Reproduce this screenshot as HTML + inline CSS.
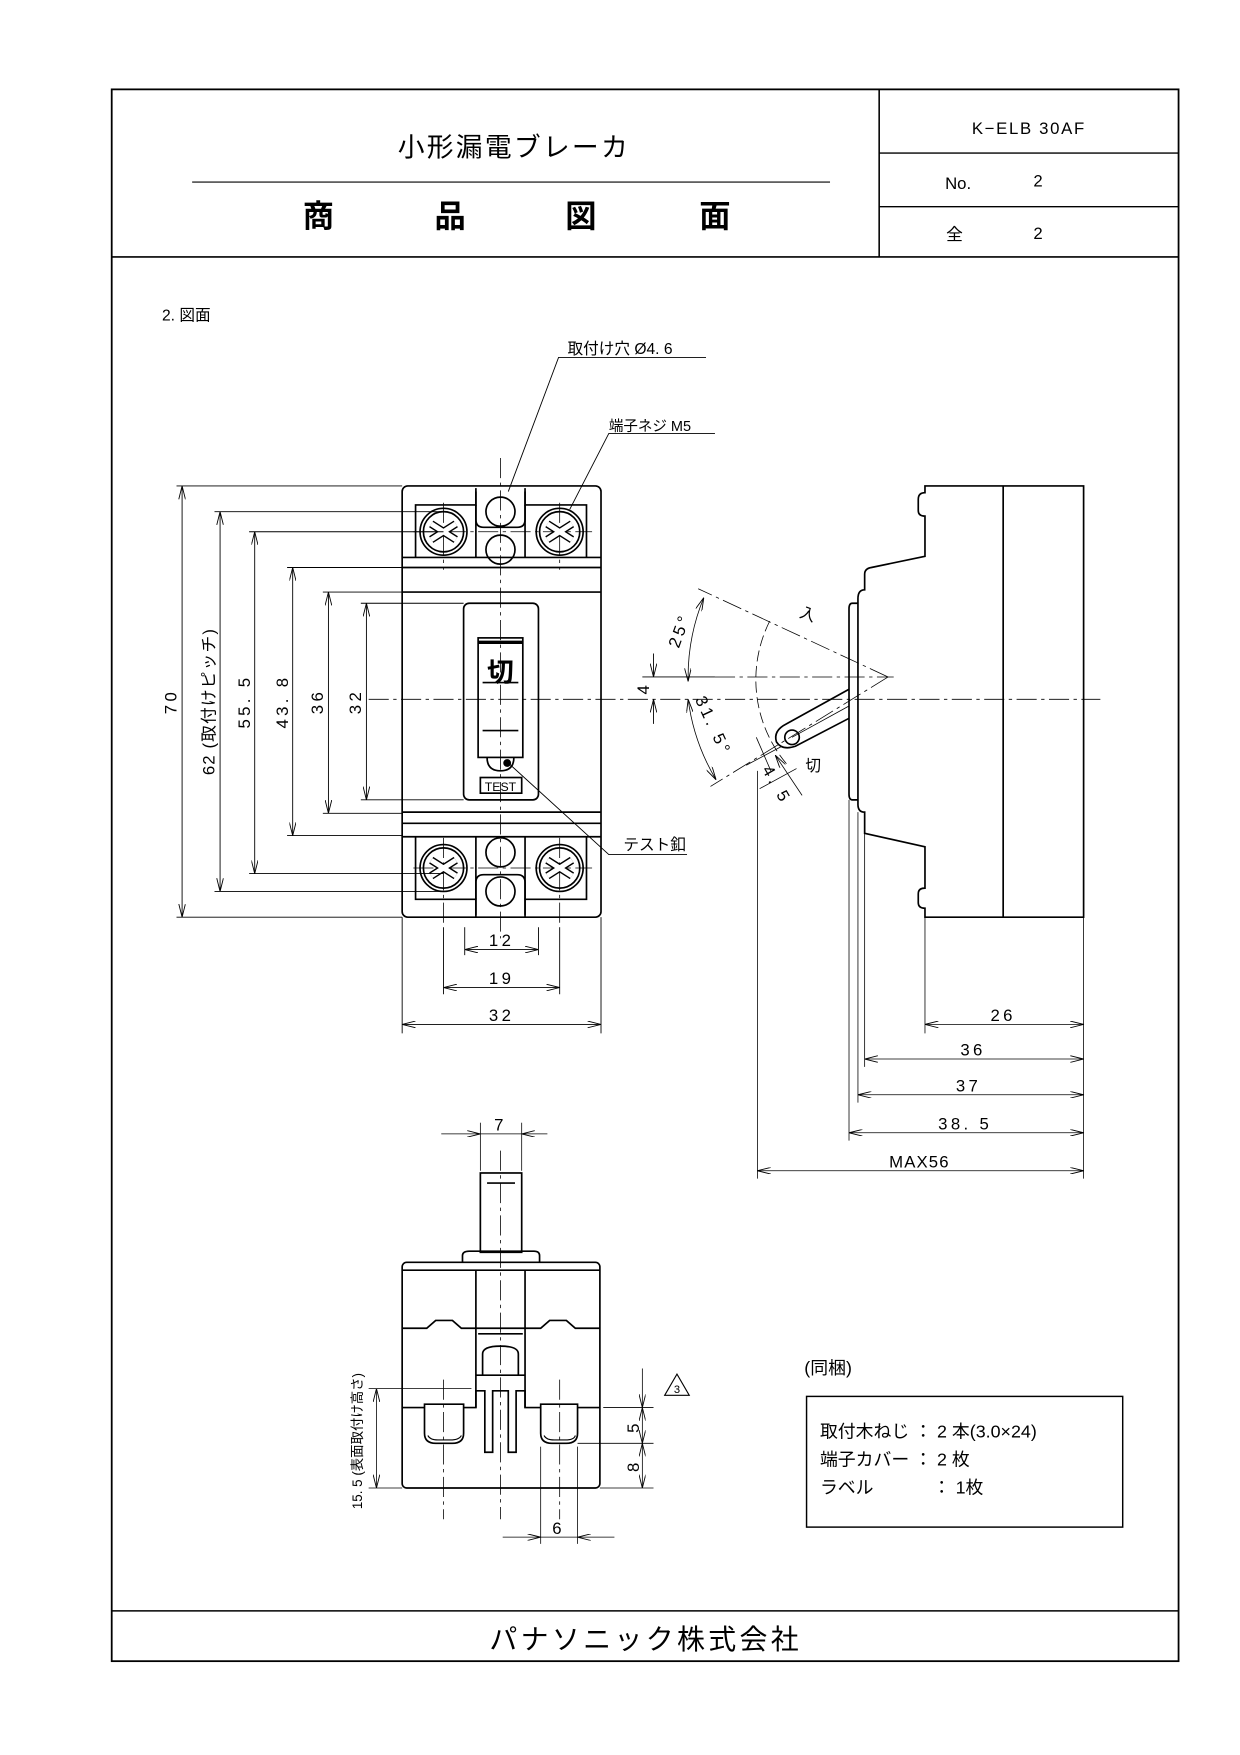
<!DOCTYPE html>
<html><head><meta charset="utf-8"><style>html,body{margin:0;padding:0;background:#fff}svg{display:block}</style></head><body>
<svg width="1240" height="1755" viewBox="0 0 1110 1571" preserveAspectRatio="none" xmlns="http://www.w3.org/2000/svg" font-family="Liberation Sans, Noto Sans CJK JP, sans-serif">
<defs>
<marker id="a" viewBox="0 0 12 6" refX="12" refY="3" markerWidth="12" markerHeight="6" orient="auto-start-reverse" markerUnits="userSpaceOnUse"><path d="M0,0 L12,3 L0,6" fill="none" stroke="#000" stroke-width="0.8"/></marker>
</defs>
<g fill="none" stroke="#000">
<rect x="100" y="80" width="955" height="1407" stroke-width="1.6"/>
<line x1="100" y1="230" x2="1055" y2="230" stroke-width="1.4"/>
<line x1="787" y1="80" x2="787" y2="230" stroke-width="1.4"/>
<line x1="787" y1="137" x2="1055" y2="137" stroke-width="1.2"/>
<line x1="787" y1="185" x2="1055" y2="185" stroke-width="1.2"/>
<line x1="172" y1="163" x2="743" y2="163" stroke-width="1"/>
<line x1="100" y1="1442" x2="1055" y2="1442" stroke-width="1.4"/>

<g stroke-width="0.7" stroke-dasharray="18,4,3,4">
<line x1="330" y1="626" x2="985" y2="626"/>
<line x1="448" y1="410" x2="448" y2="840"/>
<line x1="397" y1="450" x2="397" y2="510"/><line x1="501" y1="450" x2="501" y2="510"/>
<line x1="397" y1="750" x2="397" y2="830"/><line x1="501" y1="750" x2="501" y2="830"/>
<line x1="370" y1="476" x2="530" y2="476"/><line x1="370" y1="777" x2="530" y2="777"/>
<line x1="448" y1="1030" x2="448" y2="1360"/>
<line x1="397" y1="1235" x2="397" y2="1360"/><line x1="501" y1="1235" x2="501" y2="1360"/>
<line x1="640" y1="606" x2="800" y2="606"/>
</g>

<g stroke-width="1.5">
<rect x="360" y="435" width="178" height="386" rx="5"/>
<line x1="360" y1="499" x2="538" y2="499"/>
<line x1="360" y1="508" x2="538" y2="508"/>
<line x1="360" y1="530" x2="538" y2="530"/>
<line x1="360" y1="727" x2="538" y2="727"/>
<line x1="360" y1="737" x2="538" y2="737"/>
<line x1="360" y1="749" x2="538" y2="749"/>
<path d="M372,499 V452 H426 V437 M470,437 V452 H525 V499"/>
<path d="M372,749 V805 H426 V821 M470,821 V805 H525 V749"/>
<path d="M426,440 V465 Q426,472 433,472 H463 Q470,472 470,465 V440"/>
<path d="M426,499 V452 M470,499 V452"/>
<path d="M426,749 V805 M470,749 V805"/>
<path d="M426,819 V790 Q426,783 433,783 H463 Q470,783 470,790 V819"/>
<circle cx="397" cy="476" r="21"/><circle cx="397" cy="476" r="18"/>
<circle cx="501" cy="476" r="21"/><circle cx="501" cy="476" r="18"/>
<circle cx="397" cy="777" r="21"/><circle cx="397" cy="777" r="18"/>
<circle cx="501" cy="777" r="21"/><circle cx="501" cy="777" r="18"/>
<circle cx="448" cy="458" r="13"/><circle cx="448" cy="492" r="13"/>
<circle cx="448" cy="763" r="13"/><circle cx="448" cy="798" r="13"/>
<rect x="415" y="540" width="67" height="176" rx="5"/>
<rect x="428" y="571" width="40" height="107"/>
<line x1="428" y1="575" x2="468" y2="575" stroke-width="3"/>
<line x1="432" y1="611" x2="464" y2="611"/>
<line x1="432" y1="654" x2="464" y2="654"/>
<path d="M436,678 Q436,690 448,690 Q460,690 460,678"/>
<rect x="430" y="696" width="37" height="14"/>
</g>
<g>
<path d="M386,469 l22,14 M386,483 l22,-14 M490,469 l22,14 M490,483 l22,-14 M386,770 l22,14 M386,784 l22,-14 M490,770 l22,14 M490,784 l22,-14" stroke-width="7" stroke="#000"/>
<path d="M386,469 l22,14 M386,483 l22,-14 M490,469 l22,14 M490,483 l22,-14 M386,770 l22,14 M386,784 l22,-14 M490,770 l22,14 M490,784 l22,-14" stroke-width="4.5" stroke="#fff"/>
</g>
<circle cx="454" cy="683" r="3" fill="#000"/>

<g stroke-width="0.8">
<line x1="158" y1="435" x2="360" y2="435"/><line x1="158" y1="821" x2="360" y2="821"/>
<line x1="192" y1="458" x2="397" y2="458"/><line x1="192" y1="798" x2="397" y2="798"/>
<line x1="223" y1="476" x2="397" y2="476"/><line x1="223" y1="782" x2="397" y2="782"/>
<line x1="257" y1="508" x2="360" y2="508"/><line x1="257" y1="748" x2="360" y2="748"/>
<line x1="289" y1="530" x2="360" y2="530"/><line x1="289" y1="728" x2="360" y2="728"/>
<line x1="323" y1="540" x2="415" y2="540"/><line x1="323" y1="716" x2="415" y2="716"/>
<line x1="163" y1="435" x2="163" y2="821" marker-start="url(#a)" marker-end="url(#a)"/>
<line x1="197" y1="458" x2="197" y2="798" marker-start="url(#a)" marker-end="url(#a)"/>
<line x1="228" y1="476" x2="228" y2="782" marker-start="url(#a)" marker-end="url(#a)"/>
<line x1="262" y1="508" x2="262" y2="748" marker-start="url(#a)" marker-end="url(#a)"/>
<line x1="294" y1="530" x2="294" y2="728" marker-start="url(#a)" marker-end="url(#a)"/>
<line x1="328" y1="540" x2="328" y2="716" marker-start="url(#a)" marker-end="url(#a)"/>
<line x1="416" y1="830" x2="416" y2="855"/><line x1="482" y1="830" x2="482" y2="855"/>
<line x1="397" y1="830" x2="397" y2="890"/><line x1="501" y1="830" x2="501" y2="890"/>
<line x1="360" y1="821" x2="360" y2="925"/><line x1="538" y1="821" x2="538" y2="925"/>
<line x1="416" y1="850" x2="482" y2="850" marker-start="url(#a)" marker-end="url(#a)"/>
<line x1="397" y1="884" x2="501" y2="884" marker-start="url(#a)" marker-end="url(#a)"/>
<line x1="360" y1="917" x2="538" y2="917" marker-start="url(#a)" marker-end="url(#a)"/>
<line x1="575" y1="606" x2="640" y2="606"/>
<line x1="585" y1="585" x2="585" y2="606" marker-end="url(#a)"/>
<line x1="585" y1="648" x2="585" y2="626" marker-end="url(#a)"/>
<path d="M455,440 L500,320 H632"/>
<path d="M510,456 L545,388 H640"/>
<path d="M455,683 L545,765 H615"/>
</g>

<g stroke-width="1.5">
<path d="M828,435 H970 V821 H828 V813 Q822,813 822,808 V800 Q822,795 828,795 V758 L774,746 V727 Q768,727 768,720 V536 Q768,528 774,528 V514 Q774,509 780,508 L828,498 V462 Q822,462 822,457 V447 Q822,441 828,441 Z"/>
<line x1="898" y1="435" x2="898" y2="821"/>
<path d="M768,540 H763 Q760,540 760,545 V711 Q760,716 763,716 H768"/>
<path d="M760,617 L704,648 Q692,654 695,664 Q700,672 712,668 L760,643"/>
<circle cx="709" cy="660" r="6.5"/>
</g>
<g stroke-width="0.7">
<path d="M709,660 L760,632" />
<line x1="795" y1="606" x2="625" y2="527" stroke-dasharray="18,4,3,4"/>
<line x1="795" y1="606" x2="636" y2="704" stroke-dasharray="18,4,3,4"/>
<path d="M689,556 A117,117 0 0 0 706,686" stroke-dasharray="10,4"/>
<path d="M630,535 A187,187 0 0 0 616,610" marker-start="url(#a)" marker-end="url(#a)"/>
<path d="M616,626 A187,187 0 0 0 641,698" marker-start="url(#a)" marker-end="url(#a)"/>
<line x1="677" y1="660" x2="690" y2="690"/><line x1="694" y1="676" x2="718" y2="712" marker-start="url(#a)"/>
<line x1="668" y1="685" x2="700" y2="668"/><line x1="680" y1="706" x2="713" y2="688"/>
<line x1="828" y1="821" x2="828" y2="925"/>
<line x1="970" y1="821" x2="970" y2="1055"/>
<line x1="774" y1="746" x2="774" y2="955"/>
<line x1="768" y1="727" x2="768" y2="987"/>
<line x1="760" y1="716" x2="760" y2="1021"/>
<line x1="678" y1="690" x2="678" y2="1055"/>
<line x1="828" y1="917" x2="970" y2="917" marker-start="url(#a)" marker-end="url(#a)"/>
<line x1="774" y1="948" x2="970" y2="948" marker-start="url(#a)" marker-end="url(#a)"/>
<line x1="768" y1="980" x2="970" y2="980" marker-start="url(#a)" marker-end="url(#a)"/>
<line x1="760" y1="1014" x2="970" y2="1014" marker-start="url(#a)" marker-end="url(#a)"/>
<line x1="678" y1="1048" x2="970" y2="1048" marker-start="url(#a)" marker-end="url(#a)"/>
</g>

<g stroke-width="1.5">
<rect x="430" y="1050" width="37" height="71"/>
<line x1="436" y1="1059" x2="461" y2="1059"/>
<path d="M414,1130 V1124 Q414,1120 420,1120 H478 Q483,1120 483,1124 V1130"/>
<rect x="360" y="1130" width="177" height="202" rx="4"/>
<line x1="360" y1="1137" x2="537" y2="1137"/>
<path d="M360,1189 H382 L390,1182 H405 L413,1189 H426 M470,1189 H484 L492,1182 H507 L515,1189 H537"/>
<path d="M426,1137 V1260 M470,1137 V1260"/>
<line x1="426" y1="1189" x2="470" y2="1189"/>
<line x1="428" y1="1194" x2="468" y2="1194"/>
<path d="M432,1231 V1212 Q432,1205 448,1205 Q464,1205 464,1212 V1231"/>
<line x1="426" y1="1231" x2="470" y2="1231"/>
<path d="M360,1260 H380 M415,1260 H426 V1245 H434 V1300 H441 V1245 H455 V1300 H462 V1245 H470 V1260 H484 M517,1260 H537"/>
<path d="M380,1257 V1283 Q380,1292 390,1292 H405 Q415,1292 415,1283 V1257 Z"/>
<path d="M484,1257 V1283 Q484,1292 494,1292 H507 Q517,1292 517,1283 V1257 Z"/>
<path d="M383,1285 Q385,1289 392,1289 H403 Q411,1289 413,1285 M487,1285 Q489,1289 496,1289 H506 Q514,1289 515,1285" stroke-width="1"/>
</g>
<g stroke-width="0.7">
<line x1="430" y1="1005" x2="430" y2="1048"/><line x1="467" y1="1005" x2="467" y2="1048"/>
<line x1="395" y1="1015" x2="430" y2="1015" marker-end="url(#a)"/><line x1="490" y1="1015" x2="467" y2="1015" marker-end="url(#a)"/>
<line x1="430" y1="1015" x2="467" y2="1015"/>
<line x1="330" y1="1243" x2="422" y2="1243"/>
<line x1="330" y1="1332" x2="360" y2="1332"/>
<line x1="337" y1="1243" x2="337" y2="1332" marker-start="url(#a)" marker-end="url(#a)"/>
<line x1="540" y1="1260" x2="585" y2="1260"/>
<line x1="517" y1="1292" x2="585" y2="1292"/>
<line x1="537" y1="1332" x2="585" y2="1332"/>
<line x1="575" y1="1225" x2="575" y2="1260" marker-end="url(#a)"/>
<line x1="575" y1="1260" x2="575" y2="1292" marker-start="url(#a)" marker-end="url(#a)"/>
<line x1="575" y1="1292" x2="575" y2="1332" marker-start="url(#a)" marker-end="url(#a)"/>
<line x1="484" y1="1295" x2="484" y2="1382"/><line x1="517" y1="1295" x2="517" y2="1382"/>
<line x1="450" y1="1376" x2="484" y2="1376" marker-end="url(#a)"/><line x1="550" y1="1376" x2="517" y2="1376" marker-end="url(#a)"/>
<line x1="484" y1="1376" x2="517" y2="1376"/>
</g>
<path d="M595,1249 L606,1230 L617,1249 Z" stroke-width="1"/>
<rect x="722" y="1250" width="283" height="117" stroke-width="1.3"/>
</g>

<g fill="#000">
<text x="460" y="140" font-size="24" text-anchor="middle" letter-spacing="2">小形漏電ブレーカ</text>
<g font-size="28" text-anchor="middle" font-weight="bold"><text x="285" y="203">商</text><text x="403" y="203">品</text><text x="520" y="203">図</text><text x="640" y="203">面</text></g>
<text x="921" y="120" font-size="15" text-anchor="middle" letter-spacing="1.5">K−ELB 30AF</text>
<text x="846" y="169" font-size="15">No.</text><text x="925" y="167" font-size="15">2</text>
<text x="847" y="215" font-size="15">全</text><text x="925" y="214" font-size="15">2</text>
<text x="145" y="287" font-size="14">2. 図面</text>
<text x="508" y="317" font-size="14">取付け穴 Ø4. 6</text>
<text x="545" y="386" font-size="13">端子ネジ M5</text>
<text x="558" y="761" font-size="14">テスト釦</text>
<text x="448" y="610" font-size="24" font-weight="bold" text-anchor="middle">切</text>
<text x="448" y="708" font-size="11" text-anchor="middle">TEST</text>
<g font-size="15" text-anchor="middle" letter-spacing="3">
<text transform="translate(158,628) rotate(-90)">70</text>
<text transform="translate(192,628) rotate(-90)" letter-spacing="1">62 (取付けピッチ)</text>
<text transform="translate(224,628) rotate(-90)">55. 5</text>
<text transform="translate(258,628) rotate(-90)">43. 8</text>
<text transform="translate(289,628) rotate(-90)">36</text>
<text transform="translate(323,628) rotate(-90)">32</text>
<text transform="translate(581,616) rotate(-90)">4</text>
<text x="449" y="847">12</text><text x="449" y="881">19</text><text x="449" y="914">32</text>
<text x="898" y="914">26</text><text x="871" y="945">36</text><text x="867" y="977">37</text><text x="864" y="1011">38. 5</text><text x="823" y="1045" letter-spacing="1">MAX56</text>
<text x="448" y="1012">7</text>
<text x="500" y="1373">6</text>
<text transform="translate(572,1277) rotate(-90)">5</text>
<text transform="translate(572,1312) rotate(-90)">8</text>
<text transform="translate(613,566) rotate(-70)">25°</text>
<text transform="translate(634,652) rotate(65)">31. 5°</text>
<text transform="translate(691,705) rotate(60)">4. 5</text>
</g>
<text transform="translate(324,1290) rotate(-90)" font-size="12" text-anchor="middle">15. 5 (表面取付け高さ)</text>
<text x="606" y="1247" font-size="10" text-anchor="middle">3</text>
<text x="715" y="552" font-size="14" transform="rotate(20 715 552)">入</text>
<text x="721" y="690" font-size="14">切</text>
<text x="720" y="1230" font-size="16">(同梱)</text>
<text x="734" y="1287" font-size="16">取付木ねじ ： 2 本(3.0×24)</text>
<text x="734" y="1312" font-size="16">端子カバー ： 2 枚</text>
<text x="734" y="1337" font-size="16">ラベル</text><text x="835" y="1337" font-size="16">：  1枚</text>
<text x="578" y="1476" font-size="25" text-anchor="middle" letter-spacing="3">パナソニック株式会社</text>
</g>
</svg>
</body></html>
